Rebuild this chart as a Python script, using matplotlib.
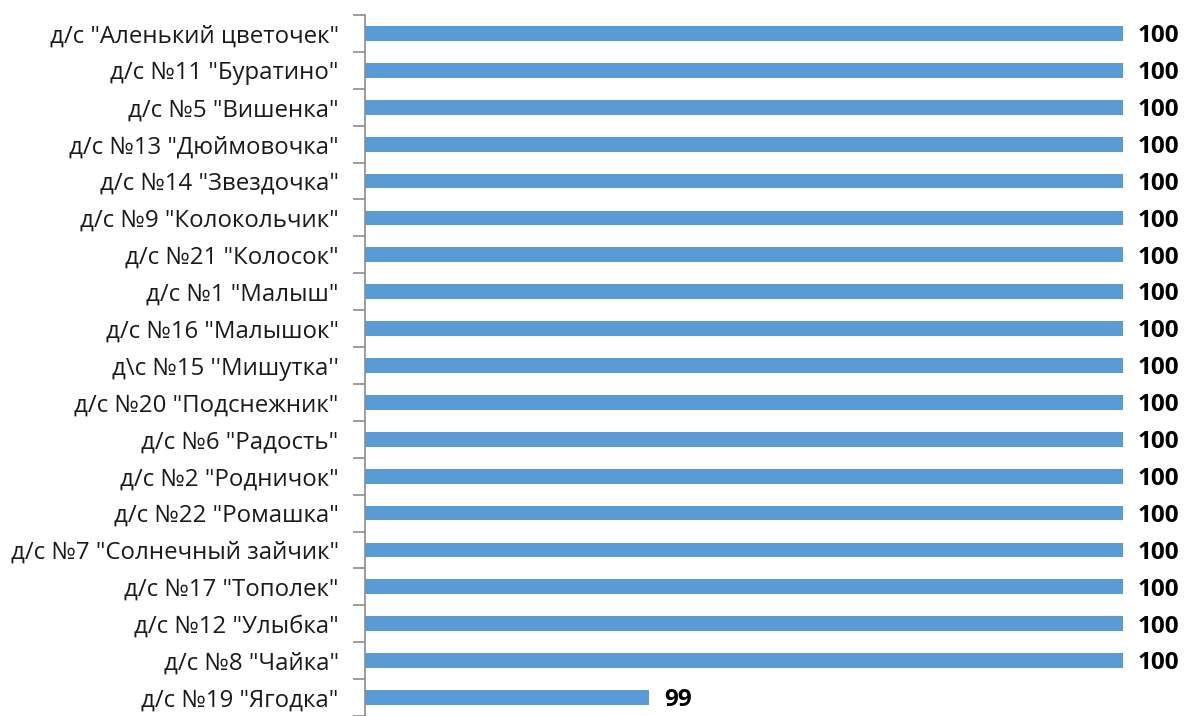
import matplotlib
matplotlib.use("Agg")
import matplotlib.pyplot as plt
from matplotlib.ticker import FixedLocator, NullFormatter

categories = [
    'д/с "Аленький цветочек"',
    'д/с №11 "Буратино"',
    'д/с №5 "Вишенка"',
    'д/с №13 "Дюймовочка"',
    'д/с №14 "Звездочка"',
    'д/с №9 "Колокольчик"',
    'д/с №21 "Колосок"',
    'д/с №1 "Малыш"',
    'д/с №16 "Малышок"',
    "д\\с №15 ''Мишутка''",
    'д/с №20 "Подснежник"',
    'д/с №6 "Радость"',
    'д/с №2 "Родничок"',
    'д/с №22 "Ромашка"',
    'д/с №7 "Солнечный зайчик"',
    'д/с №17 "Тополек"',
    'д/с №12 "Улыбка"',
    'д/с №8 "Чайка"',
    'д/с №19 "Ягодка"',
]
values = [100, 100, 100, 100, 100, 100, 100, 100, 100, 100,
          100, 100, 100, 100, 100, 100, 100, 100, 99]

plt.rcParams['font.family'] = ['Open Sans', 'DejaVu Sans']

fig = plt.figure(figsize=(11.84, 7.16), dpi=100)
ax = fig.add_axes([365/1184, 0/716, (1122.7 - 365)/1184, (716 - 15)/716])

n = len(categories)
ypos = list(range(n))
ax.barh(ypos, values, height=0.4, color='#5B9BD5', left=0)
ax.set_xlim(98.4, 100.0)
ax.set_ylim(n - 0.5, -0.5)

ax.set_yticks(ypos)
ax.set_yticklabels(categories, fontsize=17.3, color='#1a1a1a')
ax.tick_params(axis='y', which='major', length=0, pad=19)
ax.yaxis.set_minor_locator(FixedLocator([i - 0.5 for i in range(n + 1)]))
ax.yaxis.set_minor_formatter(NullFormatter())
ax.tick_params(axis='y', which='minor', length=9, width=1.2, color='#8c8c8c')
ax.set_xticks([])

for s in ['top', 'right', 'bottom']:
    ax.spines[s].set_visible(False)
ax.spines['left'].set_color('#8c8c8c')
ax.spines['left'].set_linewidth(1.2)

for y, v in zip(ypos, values):
    ax.annotate(str(v), xy=(v, y), xytext=(11, -2), textcoords='offset points',
                ha='left', va='center', fontsize=17.5, fontweight='bold',
                color='#000000', annotation_clip=False)

fig.savefig('out.png', dpi=100)
